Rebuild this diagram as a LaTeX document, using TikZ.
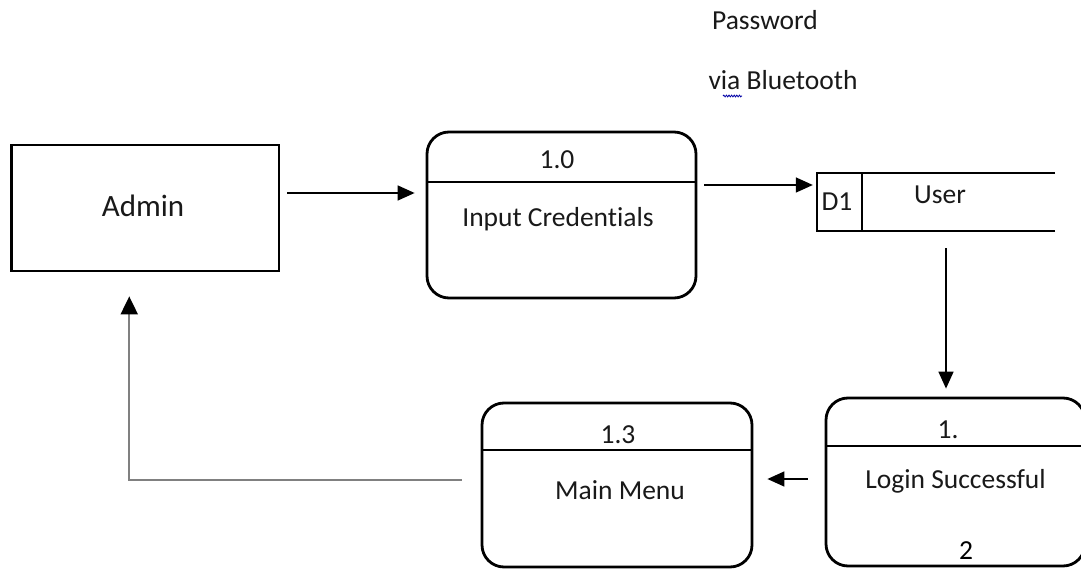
\documentclass[tikz,border=0pt]{standalone}
\usepackage{fontspec}
\setmainfont{Carlito}[Ligatures=NoCommon]
\usetikzlibrary{arrows.meta,decorations.pathmorphing}

\tikzset{
  box/.style={draw=black, line width=2.8pt, inner sep=0pt, rectangle},
  procbox/.style={box, rounded corners=22pt},
  divider/.style={draw=black, line width=1.4pt},
  txt/.style={inner sep=0pt, anchor=base, text=black!90,
              font=\fontsize{27.5}{33}\selectfont},
  bigtxt/.style={txt, font=\fontsize{31}{37}\selectfont},
  flow/.style={draw=black, line width=1.5pt,
               -{Triangle[length=17pt,width=15pt]}},
  backflow/.style={draw=black!50, line width=2pt,
               -{Triangle[length=18pt,width=17pt,color=black]}},
  spell/.style={draw=blue!65!black, line width=0.8pt, decorate,
               decoration={snake, amplitude=0.9pt, segment length=2.6pt}}
}

\begin{document}
\begin{tikzpicture}[x=1pt,y=-1pt]
  \clip (0,0) rectangle (1081,569);
  \fill[white] (0,0) rectangle (1081,569);

  % external entity
  \node[box, minimum width=267.5pt, minimum height=126pt] (admin) at (145.25,208) {};
  \node[bigtxt] (adminlbl) at (143,217) {Admin};

  % process 1.0
  \node[procbox, minimum width=269pt, minimum height=166pt] (input) at (561.5,215) {};
  \draw[divider] (427,182) -- (696,182);
  \node[txt] (inputnum) at (557,169) {1.0};
  \node[txt] (inputlbl) at (558,227) {Input Credentials};

  % data store D1
  \node[inner sep=0pt, minimum width=238pt, minimum height=58pt] (store) at (936,202) {};
  \draw[line width=2.8pt] (1055,173) -- (815.6,173);
  \draw[line width=2.8pt] (1055,231) -- (815.6,231);
  \draw[line width=2.2pt] (817,173) -- (817,231);
  \draw[divider] (862,173) -- (862,231);
  \node[txt] (storeid) at (837,211) {D1};
  \node[txt] (storelbl) at (940,204) {User};

  % process 1.2
  \node[procbox, minimum width=259pt, minimum height=168pt] (login) at (955.5,482) {};
  \draw[divider] (826,446) -- (1085,446);
  \node[txt] (loginnum) at (948,438) {1.};
  \node[txt] (loginlbl) at (955.5,488) {Login Successful};
  \node[txt, text=black] (loginnum2) at (966,559) {2};

  % process 1.3
  \node[procbox, minimum width=270pt, minimum height=164pt] (menu) at (617,485) {};
  \draw[divider] (482,450) -- (752,450);
  \node[txt] (menunum) at (618,443) {1.3};
  \node[txt] (menulbl) at (620,499) {Main Menu};

  % data flow label
  \node[txt] (flowlbl1) at (765,30) {Password};
  \node[txt] (flowlbl2) at (783,90) {via Bluetooth};
  \draw[spell] (723,96) -- (742,96);

  % data flows
  \draw[flow, shorten <=7pt, shorten >=11pt]
    ([yshift=15pt]admin.east) -- ([yshift=22pt]input.west);
  \draw[flow, shorten <=7pt, shorten >=4pt]
    ([yshift=30pt]input.east) -- ([yshift=17pt]store.west);
  \draw[flow, shorten <=17pt, shorten >=8pt]
    ([xshift=10pt]store.south) -- ([xshift=-9.5pt]login.north);
  \draw[flow, shorten <=17pt, shorten >=14pt]
    ([yshift=3pt]login.west) -- ([yshift=6pt]menu.east);
  \draw[backflow, shorten <=19pt, shorten >=24pt]
    ([yshift=5pt]menu.west) -| ([xshift=-16pt]admin.south);
\end{tikzpicture}
\end{document}
